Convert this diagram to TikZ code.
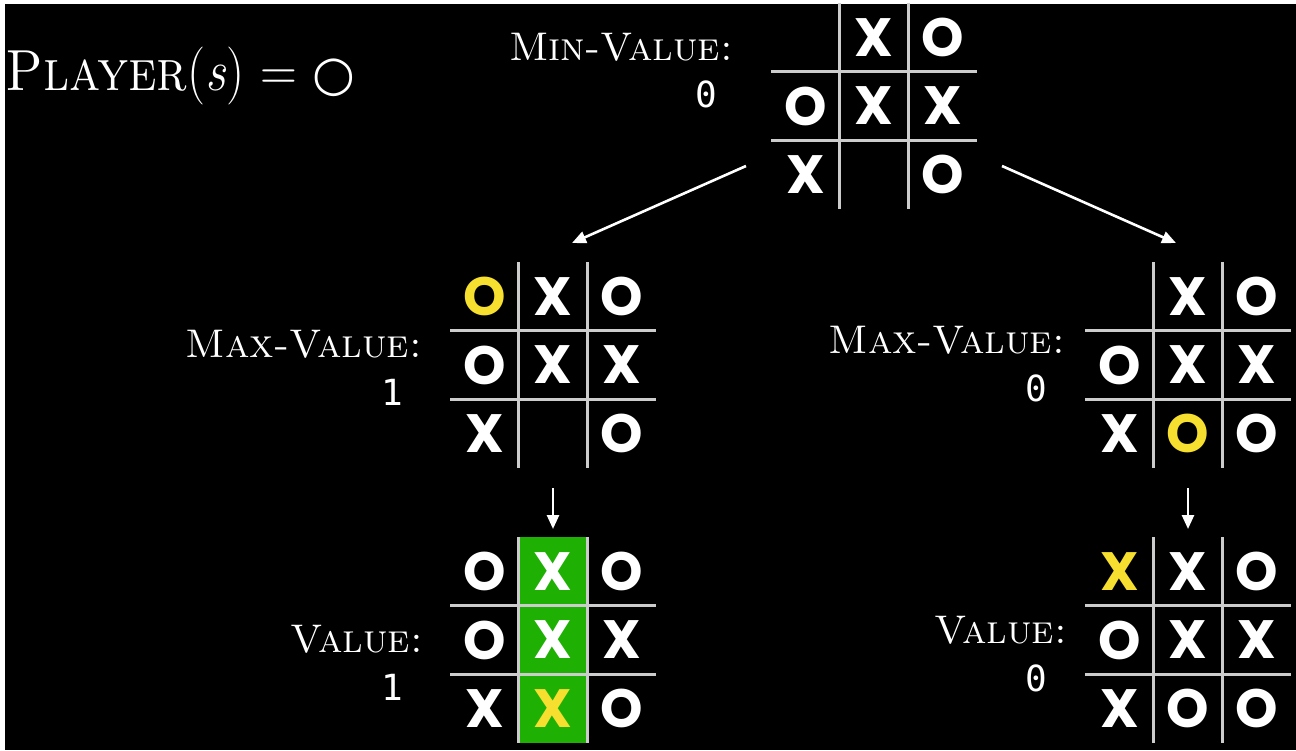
\documentclass[tikz,border=0pt]{standalone}
\usepackage{graphicx}
\usepackage{fontspec}
\newfontfamily\xofont{Poppins}[UprightFont=* Bold]
\newfontfamily\monofont{DejaVu Sans Mono}
\newfontfamily\symfont{DejaVu Sans}
\usetikzlibrary{arrows.meta}
\definecolor{ttyel}{HTML}{F7DF30}
\definecolor{ttgreen}{HTML}{1EB104}
\definecolor{ttgrid}{HTML}{CCCCCC}
\tikzset{
 gridline/.style={draw=ttgrid,line width=3pt},
 xo/.style={font=\xofont\fontsize{54}{54}\selectfont, inner sep=0pt, anchor=center},
 lbl/.style={font=\fontsize{40}{40}\selectfont, text=white, anchor=base east, inner sep=0pt},
 num/.style={font=\monofont\fontsize{36}{36}\selectfont, text=white, inner sep=0pt},
 conn/.style={draw=white, line width=2.6pt, -{Triangle[length=14pt,width=12pt]}},
}
\newcommand\tttboard[4]{%
  \draw[gridline] (#2+68.67,#3) -- (#2+68.67,#3+206);
  \draw[gridline] (#2+137.33,#3) -- (#2+137.33,#3+206);
  \draw[gridline] (#2,#3+68.67) -- (#2+206,#3+68.67);
  \draw[gridline] (#2,#3+137.33) -- (#2+206,#3+137.33);
  \foreach \c/\r/\t/\s in {#4}{%
    \node[xo,text=\s] (#1-\c\r) at (#2+\c*68.67-34.33,#3+\r*68.67-34.33) {\t};
  }%
}
\begin{document}
\begin{tikzpicture}[x=1pt,y=-1pt]
\useasboundingbox (0,0) rectangle (1296,750);
\fill[white] (0,0) rectangle (1296,750);
\fill[black] (5,4) rectangle (1296,750);

\node[anchor=base west, text=white, font=\fontsize{58}{58}\selectfont, inner sep=0pt, xscale=0.88, transform shape] (title) at (5,90)
  {\textsc{Player}(\textit{s}) = \scalebox{1.136}[1]{\symfont\fontsize{49}{49}\selectfont ○}};

% top board
\tttboard{top}{771}{3}{2/1/X/white,3/1/O/white,1/2/O/white,2/2/X/white,3/2/X/white,1/3/X/white,3/3/O/white}
\node[lbl] (minlbl) at (733,60) {\textsc{Min-Value:}};
\node[num] (minval) at (706,94) {0};

% left middle
\tttboard{lm}{450}{262}{1/1/O/ttyel,2/1/X/white,3/1/O/white,1/2/O/white,2/2/X/white,3/2/X/white,1/3/X/white,3/3/O/white}
\node[lbl] (lmlbl) at (422,357) {\textsc{Max-Value:}};
\node[num] (lmval) at (392,392) {1};

% right middle
\tttboard{rm}{1085}{262}{2/1/X/white,3/1/O/white,1/2/O/white,2/2/X/white,3/2/X/white,1/3/X/white,2/3/O/ttyel,3/3/O/white}
\node[lbl] (rmlbl) at (1065,353) {\textsc{Max-Value:}};
\node[num] (rmval) at (1036,388) {0};

% bottom left
\fill[ttgreen] (518.67,537) rectangle (587.33,743);
\tttboard{lb}{450}{537}{1/1/O/white,2/1/X/white,3/1/O/white,1/2/O/white,2/2/X/white,3/2/X/white,1/3/X/white,2/3/X/ttyel,3/3/O/white}
\node[lbl] (lblbl) at (423,652) {\textsc{Value:}};
\node[num] (lbval) at (392,687) {1};

% bottom right
\tttboard{rb}{1085}{537}{1/1/X/ttyel,2/1/X/white,3/1/O/white,1/2/O/white,2/2/X/white,3/2/X/white,1/3/X/white,2/3/O/white,3/3/O/white}
\node[lbl] (rblbl) at (1067,643) {\textsc{Value:}};
\node[num] (rbval) at (1036,678) {0};

% connectors
\coordinate (tl-s) at (746,166);
\coordinate (tl-e) at (572,243);
\coordinate (tr-s) at (1002,166);
\coordinate (tr-e) at (1176,243);
\coordinate (ml-s) at (553,488);
\coordinate (ml-e) at (553,529);
\coordinate (mr-s) at (1188,488);
\coordinate (mr-e) at (1188,529);
\draw[conn] (tl-s) -- (tl-e);
\draw[conn] (tr-s) -- (tr-e);
\draw[conn] (ml-s) -- (ml-e);
\draw[conn] (mr-s) -- (mr-e);
\end{tikzpicture}
\end{document}
